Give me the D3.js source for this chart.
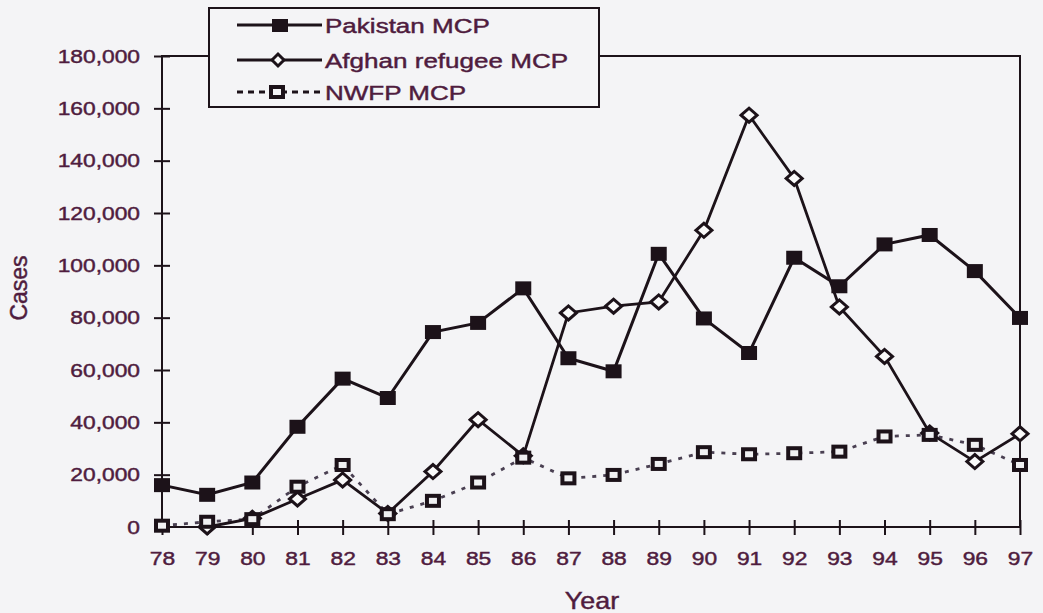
<!DOCTYPE html>
<html><head><meta charset="utf-8">
<script src="https://cdn.jsdelivr.net/npm/d3@7"></script>
<style>body{margin:0;background:#f4f4f6}svg{display:block}text{stroke:#4f1c3e;stroke-width:0.45px}</style>
</head><body><svg id="c" width="1043" height="613"></svg>
<script>
const years = [78,79,80,81,82,83,84,85,86,87,88,89,90,91,92,93,94,95,96,97];
const pakistan = [16000,12300,17000,38300,56700,49300,74500,78000,91200,64500,59500,104400,79700,66500,102900,92000,108000,111600,97800,79900];
const afghan = [null,0,3300,10700,18000,5200,21200,41000,27200,81800,84400,86000,113400,157400,133200,84100,65200,35900,25000,35600];
const nwfp = [500,2000,3000,15400,23700,4900,10000,17000,26500,18600,19900,24100,28600,27800,28200,28800,34600,35200,31400,23700];
const yTicks = [0,20000,40000,60000,80000,100000,120000,140000,160000,180000];
const seriesNames = ["Pakistan MCP","Afghan refugee MCP","NWFP MCP"];
const yTitle = "Cases", xTitle = "Year";

const ink = "#1c1219", txt = "#4f1c3e", bg = "#f4f4f6";
const svg = d3.select("#c");
svg.append("rect").attr("width",1043).attr("height",613).attr("fill",bg);

const x = d3.scaleLinear().domain([78,97]).range([162,1020]);
const y = d3.scaleLinear().domain([0,180000]).range([527,56]);

// frame
svg.append("rect").attr("x",x(78)).attr("y",y(180000)).attr("width",x(97)-x(78)).attr("height",y(0)-y(180000))
  .attr("fill","none").attr("stroke",ink).attr("stroke-width",2);

// y axis
const ga = svg.append("g").attr("transform",`translate(${x(78)},0)`)
  .call(d3.axisLeft(y).tickValues(yTicks).tickFormat(d3.format(",")));
ga.select(".domain").remove();
ga.selectAll("line").attr("x1",-8).attr("x2",8).attr("stroke",ink).attr("stroke-width",2);
ga.selectAll("text").attr("x",-22/1.2).attr("transform","scale(1.2,1)")
  .attr("font-family","Liberation Sans, Arial, sans-serif").attr("font-size",19).attr("fill",txt);

// x axis
const gx = svg.append("g").attr("transform",`translate(0,${y(0)})`)
  .call(d3.axisBottom(x).tickValues(years).tickFormat(d=>d));
gx.select(".domain").remove();
gx.selectAll("line").attr("y1",-7).attr("y2",8).attr("stroke",ink).attr("stroke-width",2);
gx.selectAll("text").attr("y",25).attr("transform","scale(1.2,1)")
  .attr("font-family","Liberation Sans, Arial, sans-serif").attr("font-size",19).attr("fill",txt);

// titles
svg.append("text").attr("transform",`translate(27,288) rotate(-90)`).attr("text-anchor","middle")
  .attr("font-family","Liberation Sans, Arial, sans-serif").attr("font-size",23).attr("fill",txt).text(yTitle);
svg.append("text").attr("transform",`translate(592,609) scale(1.12,1)`).attr("text-anchor","middle")
  .attr("font-family","Liberation Sans, Arial, sans-serif").attr("font-size",24).attr("fill",txt).text(xTitle);

const line = d3.line().defined(d=>d[1]!=null).x(d=>x(d[0])).y(d=>y(d[1]));
const pts = arr => years.map((yr,i)=>[yr,arr[i]]);

// lines
svg.append("path").attr("d",line(pts(nwfp))).attr("fill","none").attr("stroke","#4a4052")
  .attr("stroke-width",2.8).attr("stroke-dasharray","4,7");
svg.append("path").attr("d",line(pts(afghan))).attr("fill","none").attr("stroke",ink).attr("stroke-width",2.8);
svg.append("path").attr("d",line(pts(pakistan))).attr("fill","none").attr("stroke",ink).attr("stroke-width",3);

const diamond = (cx,cy,w,h)=>`M${cx-w},${cy}L${cx},${cy-h}L${cx+w},${cy}L${cx},${cy+h}Z`;

// markers
svg.append("g").selectAll("path").data(pts(afghan).filter(d=>d[1]!=null)).join("path")
  .attr("d",d=>diamond(x(d[0]),y(d[1]),8,7)).attr("fill","#fafafa").attr("stroke",ink).attr("stroke-width",3);
svg.append("g").selectAll("rect").data(pts(pakistan)).join("rect")
  .attr("x",d=>x(d[0])-8).attr("y",d=>y(d[1])-7).attr("width",16).attr("height",14).attr("fill",ink);
svg.append("g").selectAll("rect").data(pts(nwfp)).join("rect")
  .attr("x",d=>x(d[0])-6).attr("y",d=>y(d[1])-5).attr("width",12).attr("height",10)
  .attr("fill","#f0f0f2").attr("stroke",ink).attr("stroke-width",4);

// legend
const lg = svg.append("g");
lg.append("rect").attr("x",209).attr("y",8).attr("width",390).attr("height",99)
  .attr("fill",bg).attr("stroke",ink).attr("stroke-width",2);
const rows = [25,60,92];
rows.forEach((ry,i)=>{
  const l = lg.append("line").attr("x1",237).attr("x2",322).attr("y1",ry).attr("y2",ry).attr("stroke",ink);
  if(i===0){ l.attr("stroke-width",3);
    lg.append("rect").attr("x",272).attr("y",ry-6).attr("width",16).attr("height",13).attr("fill",ink);}
  if(i===1){ l.attr("stroke-width",2.8);
    lg.append("path").attr("d",diamond(278,ry,6,6)).attr("fill","#fafafa").attr("stroke",ink).attr("stroke-width",3);}
  if(i===2){ l.attr("stroke-width",3).attr("stroke-dasharray","6,5");
    lg.append("rect").attr("x",271).attr("y",ry-5).attr("width",12).attr("height",10).attr("fill",bg).attr("stroke",ink).attr("stroke-width",4);}
  lg.append("text").attr("transform",`translate(325,${ry}) scale(1.24,1)`).attr("dy","0.36em")
    .attr("font-family","Liberation Sans, Arial, sans-serif").attr("font-size",21).attr("fill",txt).text(seriesNames[i]);
});
</script>
</body></html>
